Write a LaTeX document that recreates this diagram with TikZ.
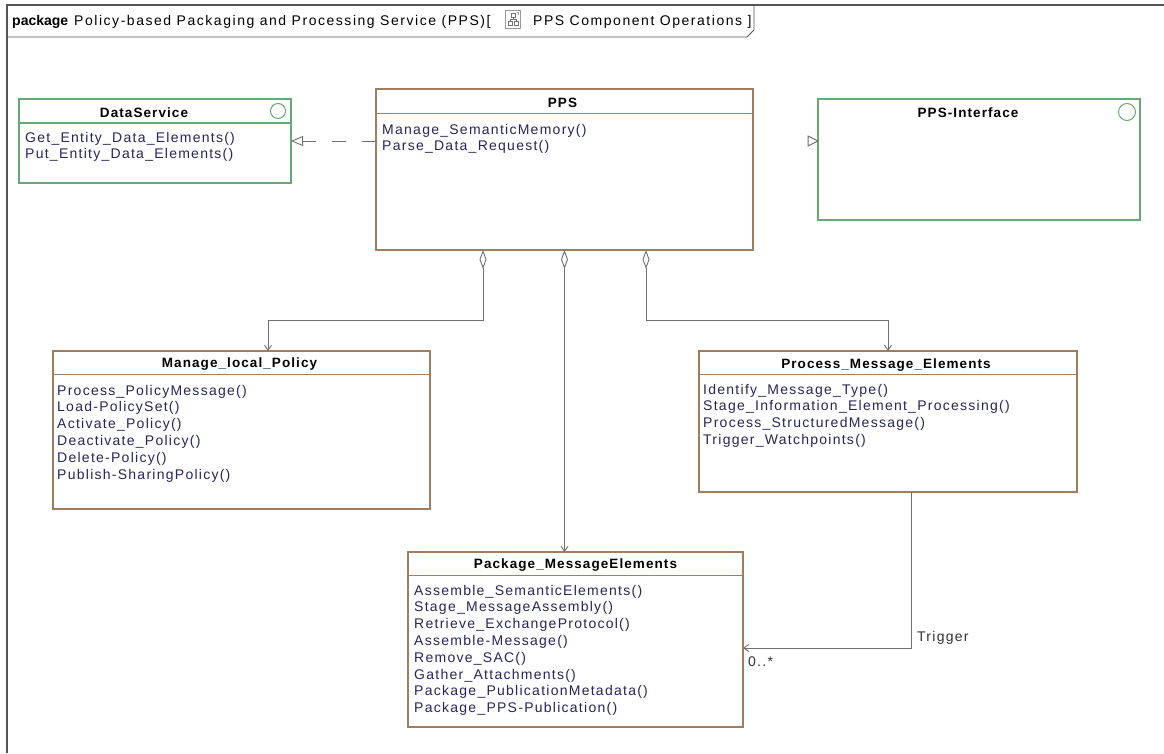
\documentclass[tikz,border=0pt]{standalone}
\usepackage{fontspec}
\setmainfont{Liberation Sans}
\newfontfamily\opfont{Liberation Sans}[LetterSpace=9]
\newfontfamily\ttlfont{Liberation Sans}[LetterSpace=8]
\newfontfamily\hdrfont{Liberation Sans}[LetterSpace=11]
\newfontfamily\pkgfont{Liberation Sans}
\usetikzlibrary{arrows.meta}
\definecolor{umlbrown}{RGB}{158,126,94}
\definecolor{umlgreen}{RGB}{104,168,116}
\definecolor{optext}{RGB}{38,38,88}
\definecolor{lbltext}{RGB}{50,50,50}
\definecolor{conncol}{RGB}{112,112,112}
\definecolor{framecol}{RGB}{85,85,85}
\begin{document}
\begin{tikzpicture}[x=1pt,y=-1pt,
  box/.style={rectangle, draw=umlbrown, line width=1.3pt, anchor=north west, inner sep=0pt, outer sep=0pt},
  ibox/.style={box, draw=umlgreen},
  divb/.style={draw=umlbrown, line width=1pt},
  divg/.style={draw=umlgreen, line width=1.2pt},
  ttl/.style={anchor=base, inner sep=0pt, font=\ttlfont\fontsize{13.5}{15}\selectfont\bfseries, text=black},
  op/.style={anchor=base west, inner sep=0pt, font=\opfont\fontsize{14}{16}\selectfont, text=optext},
  lbl/.style={anchor=base west, inner sep=0pt, font=\opfont\fontsize{14}{16}\selectfont, text=lbltext},
  hdr/.style={anchor=base west, inner sep=0pt, font=\hdrfont\fontsize{14}{16}\selectfont, text=black},
  conn/.style={draw=conncol, line width=0.9pt},
  barb/.tip={Straight Barb[length=5pt,width=7pt]},
  agg/.style={conn, {Diamond[open,length=19pt,width=7pt]}-barb},
]
\fill[white] (0,0) rectangle (1164,753);
\useasboundingbox (0,0) rectangle (1164,753);

% frame and header tab
\draw[framecol, line width=2pt] (1164,5) -- (7,5) -- (7,753);
\draw[framecol, line width=0.9pt] (7,37) -- (747,37) -- (754,30) -- (754,5);
\node[hdr, font=\pkgfont\fontsize{14}{16}\selectfont\bfseries] (hdrpkg) at (12,25.5) {package};
\node[hdr] (hdrname) at (74,25.5) {Policy-based Packaging and Processing Service (PPS)[};
\node[draw=gray!80, line width=0.7pt, anchor=north west, minimum width=15pt, minimum height=18pt, inner sep=0pt] (icon) at (505,10) {};
\begin{scope}[shift={(icon.north west)}, line width=0.6pt]
  \draw[gray!90!black] (6,3.5) rectangle (10.5,7.5);
  \draw[gray!90!black] (8.2,7.5) -- (8.2,9.5) (5,9.5) -- (11.5,9.5) (5,9.5) -- (5,11) (11.5,9.5) -- (11.5,11);
  \draw[gray!90!black] (3,11) rectangle (7,15) (9.5,11) rectangle (13.5,15);
  \draw[gray!70] (11.5,2) -- (13.5,2) -- (13.5,4.5);
\end{scope}
\node[hdr] (hdrdiag) at (533,25.5) {PPS Component Operations ]};

% boxes
\node[ibox, minimum width=272pt, minimum height=84pt] (ds) at (19,99) {};
\node[box, minimum width=377pt, minimum height=161pt] (pps) at (376,89) {};
\node[ibox, minimum width=322pt, minimum height=121pt] (pif) at (818,99) {};
\node[box, minimum width=377pt, minimum height=158pt] (mlp) at (53,351) {};
\node[box, minimum width=378pt, minimum height=141pt] (pme) at (699,351) {};
\node[box, minimum width=335pt, minimum height=175pt] (pkg) at (408,552) {};

% dividers
\draw[divg] ([yshift=-24pt]ds.north west) -- ([yshift=-24pt]ds.north east);
\draw[divb] ([yshift=-24pt]pps.north west) -- ([yshift=-24pt]pps.north east);
\draw[divb] ([yshift=-23pt]mlp.north west) -- ([yshift=-23pt]mlp.north east);
\draw[divb] ([yshift=-23pt]pme.north west) -- ([yshift=-23pt]pme.north east);
\draw[divb] ([yshift=-23pt]pkg.north west) -- ([yshift=-23pt]pkg.north east);

% interface circles
\draw[umlgreen, line width=1pt] ([xshift=-13pt,yshift=-12pt]ds.north east) circle[radius=7.5pt];
\draw[umlgreen, line width=1pt] ([xshift=-13pt,yshift=-13pt]pif.north east) circle[radius=8.5pt];

% titles
\node[ttl] (dst) at ([xshift=-11pt,yshift=-18pt]ds.north) {DataService};
\node[ttl] (ppst) at ([xshift=-2pt,yshift=-18pt]pps.north) {PPS};
\node[ttl] (pift) at ([xshift=-11pt,yshift=-18pt]pif.north) {PPS-Interface};
\node[ttl] (mlpt) at ([xshift=-2pt,yshift=-16pt]mlp.north) {Manage\_local\_Policy};
\node[ttl] (pmet) at ([xshift=-2pt,yshift=-17pt]pme.north) {Process\_Message\_Elements};
\node[ttl] (pkgt) at ([xshift=0pt,yshift=-16pt]pkg.north) {Package\_MessageElements};

% operations
\foreach \t [count=\i from 0] in {Get\_Entity\_Data\_Elements(), Put\_Entity\_Data\_Elements()}
  \node[op] (dsop\i) at ([xshift=6pt,yshift={-43pt-16.8pt*\i}]ds.north west) {\t};
\foreach \t [count=\i from 0] in {Manage\_SemanticMemory(), Parse\_Data\_Request()}
  \node[op] (ppsop\i) at ([xshift=6pt,yshift={-45pt-16.8pt*\i}]pps.north west) {\t};
\foreach \t [count=\i from 0] in {Process\_PolicyMessage(), Load-PolicySet(), Activate\_Policy(), Deactivate\_Policy(), Delete-Policy(), Publish-SharingPolicy()}
  \node[op] (mlpop\i) at ([xshift=4pt,yshift={-44pt-16.8pt*\i}]mlp.north west) {\t};
\foreach \t [count=\i from 0] in {Identify\_Message\_Type(), Stage\_Information\_Element\_Processing(), Process\_StructuredMessage(), Trigger\_Watchpoints()}
  \node[op] (pmeop\i) at ([xshift=4pt,yshift={-43pt-16.8pt*\i}]pme.north west) {\t};
\foreach \t [count=\i from 0] in {Assemble\_SemanticElements(), Stage\_MessageAssembly(), Retrieve\_ExchangeProtocol(), Assemble-Message(), Remove\_SAC(), Gather\_Attachments(), Package\_PublicationMetadata(), Package\_PPS-Publication()}
  \node[op] (pkgop\i) at ([xshift=6pt,yshift={-43pt-16.8pt*\i}]pkg.north west) {\t};

% realization PPS -> DataService
\draw[conn, dash pattern=on 14pt off 16pt, -{Triangle[open,length=12pt,width=10pt]}] (ds.east -| pps.west) -- (ds.east);
% realization tip at PPS-Interface
\coordinate (piftip) at (pif.west |- ds.east);
\draw[conncol, line width=1pt, fill=white] (piftip) -- ++(-10,-5) -- ++(0,10) -- cycle;

% aggregations
\draw[agg] ([xshift=-81.5pt]pps.south) -- ++(0,70) -| ([xshift=26.5pt]mlp.north);
\draw[agg] (pps.south) -- (pps.south |- pkg.north);
\draw[agg] ([xshift=81.5pt]pps.south) -- ++(0,70) -| (pme.north);

% trigger association
\coordinate (trigstart) at ([xshift=23pt]pme.south);
\coordinate (trigend) at ([yshift=-8.5pt]pkg.east);
\coordinate (trigcorner) at (trigstart |- trigend);
\draw[conn, -barb] (trigstart) |- (trigend);
\node[lbl] (triglbl) at ([xshift=6pt,yshift=7pt]trigcorner) {Trigger};
\node[lbl] (multlbl) at ([xshift=5pt,yshift=-18pt]trigend) {0..*};
\end{tikzpicture}
\end{document}
